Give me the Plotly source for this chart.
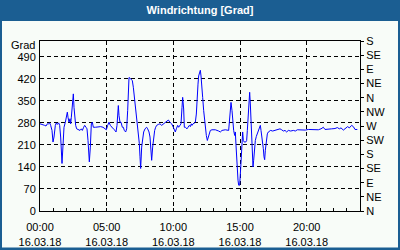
import plotly.graph_objects as go
import pandas as pd

title_text = "Windrichtung [Grad]"
unit_label = "Grad"

# hours after 16.03.18 00:00
hours = [0.0, 0.2, 0.35, 0.45, 0.55, 0.65, 0.725, 0.8, 0.9, 0.975, 1.05, 1.15, 1.225, 1.3, 1.4, 1.475,
         1.55, 1.65, 1.725, 1.8, 1.9, 1.975, 2.05, 2.1, 2.175, 2.25, 2.3, 2.35, 2.425, 2.5, 2.55, 2.6,
         2.675, 2.75, 2.85, 3.0, 3.1, 3.175, 3.275, 3.35, 3.45, 3.525, 3.6, 3.65, 3.7, 3.775, 3.85,
         3.925, 4.0, 4.15, 4.35, 4.55, 4.725, 4.85, 4.975, 5.075, 5.175, 5.275, 5.375, 5.5, 5.625,
         5.7, 5.775, 5.825, 5.875, 5.925, 6.0, 6.075, 6.175, 6.25, 6.325, 6.425, 6.5, 6.575, 6.625,
         6.675, 6.75, 6.825, 6.925, 7.0, 7.075, 7.175, 7.25, 7.325, 7.375, 7.45, 7.5, 7.55, 7.625,
         7.7, 7.775, 7.875, 8.0, 8.075, 8.175, 8.25, 8.325, 8.375, 8.45, 8.525, 8.6, 8.675, 8.75,
         8.875, 9.0, 9.125, 9.25, 9.375, 9.5, 9.625, 9.75, 9.875, 10.0, 10.05, 10.15, 10.225, 10.325,
         10.4, 10.475, 10.575, 10.65, 10.7, 10.775, 10.825, 10.9, 11.025, 11.1, 11.2, 11.275, 11.35,
         11.4, 11.475, 11.575, 11.65, 11.725, 11.775, 11.85, 11.9, 11.975, 12.025, 12.075, 12.15,
         12.2, 12.275, 12.325, 12.4, 12.475, 12.55, 12.625, 12.7, 12.775, 12.9, 13.15, 13.4, 13.525,
         13.65, 13.9, 14.15, 14.225, 14.275, 14.325, 14.4, 14.45, 14.525, 14.6, 14.65, 14.7, 14.775,
         14.85, 14.9, 14.975, 15.05, 15.125, 15.2, 15.25, 15.325, 15.425, 15.5, 15.55, 15.625,
         15.675, 15.725, 15.775, 15.825, 15.875, 15.925, 15.975, 16.025, 16.075, 16.15, 16.225,
         16.3, 16.375, 16.45, 16.525, 16.575, 16.65, 16.7, 16.75, 16.8, 16.85, 16.9, 16.975, 17.05,
         17.125, 17.2, 17.3, 17.45, 17.6, 17.75, 17.9, 18.0, 18.125, 18.25, 18.375, 18.5, 18.625,
         18.8, 19.0, 19.15, 19.3, 19.45, 19.6, 19.75, 19.9, 20.125, 20.375, 20.625, 20.875, 21.075,
         21.25, 21.375, 21.625, 21.875, 22.125, 22.3, 22.45, 22.575, 22.75, 22.925, 23.075, 23.2,
         23.375, 23.5, 23.625, 23.8]

direction = [277, 275, 272, 270, 277, 277, 280, 272, 256, 219, 235, 272, 280, 275, 280, 272,
             235, 151, 224, 266, 282, 303, 314, 298, 282, 293, 277, 298, 329, 372, 329, 298,
             272, 261, 258, 256, 261, 256, 266, 272, 266, 261, 224, 193, 156, 203, 277,
             282, 266, 266, 268, 268, 266, 261, 258, 272, 282, 272, 266, 261, 256,
             251, 272, 308, 335, 303, 282, 282, 266, 266, 256, 251, 261, 319, 382,
             424, 422, 419, 414, 393, 361, 329, 287, 261, 256, 214, 172, 135, 203,
             235, 251, 261, 266, 261, 251, 235, 193, 161, 203, 235, 256, 266, 272,
             275, 277, 272, 277, 282, 285, 289, 282, 277, 266, 261, 251, 261, 272,
             266, 272, 277, 329, 361, 324, 266, 266, 261, 266, 272, 268, 277,
             272, 277, 279, 282, 308, 361, 403, 429, 440, 447, 429, 398,
             361, 319, 293, 256, 240, 224, 235, 245, 256, 258, 258, 254, 251,
             256, 258, 256, 287, 329, 345, 319, 287, 256, 240, 251, 209, 129,
             98, 82, 82, 135, 214, 251, 224, 219, 219, 224, 256, 308,
             350, 377, 340, 287, 214, 172, 140, 161, 193, 224, 237,
             245, 256, 266, 272, 256, 235, 214, 198, 172, 163, 193, 224, 245,
             251, 254, 256, 254, 256, 256, 258, 261, 258, 254, 256, 251, 256,
             254, 256, 254, 258, 258, 256, 258, 257, 259, 258, 259, 258, 261,
             266, 259, 259, 261, 262, 265, 261, 264, 257, 262, 268, 264,
             272, 268, 259, 259]

left_tick_values = [0, 70, 140, 210, 280, 350, 420, 490]
right_tick_values = [0, 45, 90, 135, 180, 225, 270, 315, 360, 405, 450, 495, 540]
right_tick_labels = ["N", "NE", "E", "SE", "S", "SW", "W", "NW", "N", "NE", "E", "SE", "S"]
x_tick_hours = [0, 5, 10, 15, 20]

base = pd.Timestamp("2018-03-16 00:00")
times = [base + pd.Timedelta(hours=h) for h in hours]
x_ticks = [base + pd.Timedelta(hours=h) for h in x_tick_hours]
x_range = [base, base + pd.Timedelta(hours=24)]

FONT = "Liberation Sans"
BAR = "#1b5e92"
BG = "#f8fcf8"

fig = go.Figure()
fig.add_trace(go.Scatter(x=times, y=direction, mode="lines",
                         line=dict(color="#0000ff", width=1), showlegend=False))
# same series on the compass axis (invisible) so the right axis is drawn
fig.add_trace(go.Scatter(x=times, y=direction, mode="lines", yaxis="y2", opacity=0,
                         line=dict(color="#0000ff", width=1), showlegend=False,
                         hoverinfo="skip"))

fig.update_layout(
    width=400, height=250,
    margin=dict(l=40, r=40, t=41, b=39),
    paper_bgcolor=BAR, plot_bgcolor=BG,
    font=dict(family=FONT, size=11, color="black"),
    title=dict(text="<b>" + title_text + "</b>", x=0.5, xanchor="center",
               y=1 - 10.5 / 250, yanchor="middle", yref="container",
               font=dict(family=FONT, size=11, color="white")),
    xaxis=dict(type="date", range=x_range, tickvals=x_ticks,
               tickformat="%H:%M<br>%d.%m.%y",
               showgrid=True, gridcolor="black", griddash="4px,3px", gridwidth=1,
               showline=True, linecolor="black", linewidth=1, mirror=True,
               ticks="inside", ticklen=3, tickcolor="black", ticklabelstandoff=6,
               minor=dict(dtick=3600000, ticks="inside", ticklen=3, tickcolor="black", showgrid=False),
               zeroline=False, fixedrange=True, automargin=False),
    yaxis=dict(range=[0, 540], tickvals=left_tick_values,
               showgrid=True, gridcolor="black", griddash="4px,3px", gridwidth=1,
               showline=True, linecolor="black", linewidth=1, mirror=True,
               ticks="", zeroline=False, ticklabelstandoff=1, automargin=False),
    yaxis2=dict(range=[0, 540], overlaying="y", side="right",
                tickvals=right_tick_values, ticktext=right_tick_labels,
                showgrid=False, showline=True, linecolor="black", linewidth=1,
                ticks="outside", ticklen=3, tickcolor="black", zeroline=False,
                automargin=False),
    shapes=[dict(type="rect", xref="paper", yref="paper",
                 x0=(2 - 40) / 320, x1=(398 - 40) / 320,
                 y0=(211 - 247.5) / 170, y1=(211 - 21) / 170,
                 fillcolor=BG, line=dict(width=0), layer="below")],
    annotations=[dict(text=unit_label, xref="paper", yref="y", x=(37 - 40) / 320, y=527,
                      xanchor="right", yanchor="middle", showarrow=False,
                      font=dict(family=FONT, size=11, color="black"))],
)

fig.write_html("out.html")
